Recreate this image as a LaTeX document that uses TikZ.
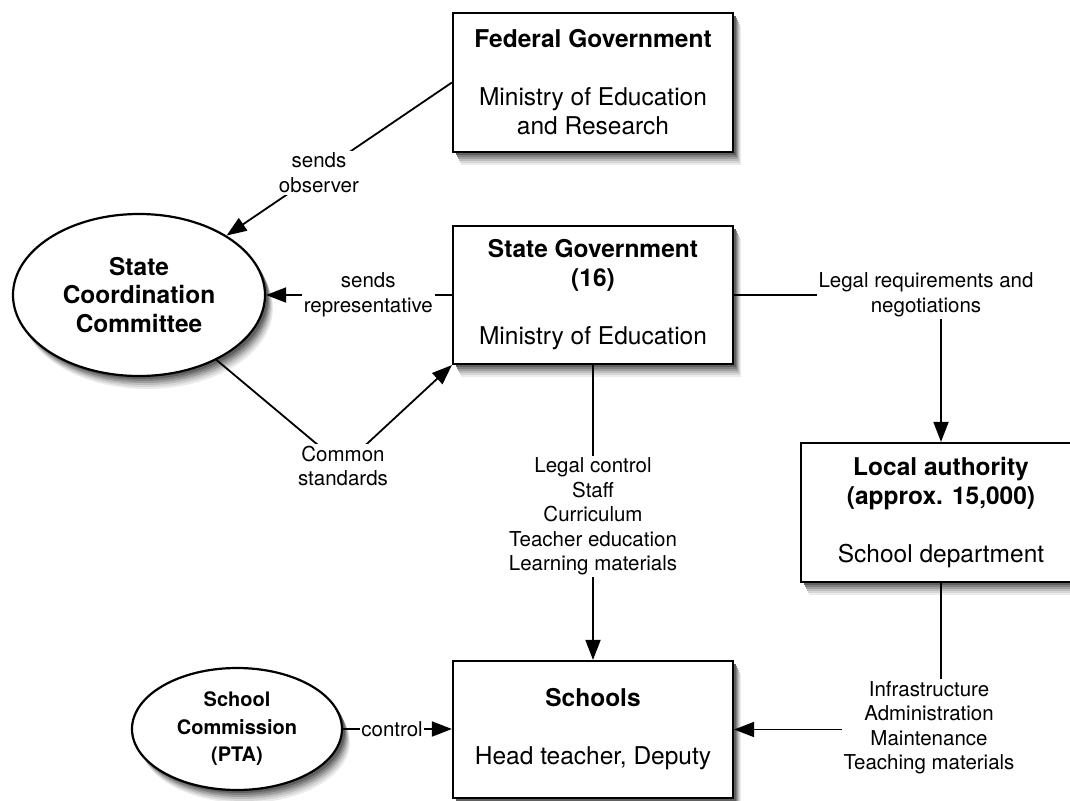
\documentclass[tikz,border=0pt]{standalone}
\usepackage{fontspec}
\setmainfont{TeX Gyre Heros}
\usetikzlibrary{arrows.meta,shapes.geometric}
% soft drop shadow behind a box: stacked grey copies, lightest and widest first
\newcommand\softboxshadow[4]{%
  \foreach \dx/\dy/\c in {8/13/8,7/11/16,6/9/26,5/7/38,4/5/50,3/3/62}{%
    \fill[black!\c] (#1+\dx,#2+\dy) rectangle (#3+\dx,#4+\dy);}}
\newcommand\softellshadow[4]{%
  \foreach \dx/\dy/\c in {8/13/8,7/11/16,6/9/26,5/7/38,4/5/50,3/3/62}{%
    \fill[black!\c] (#1+\dx,#2+\dy) ellipse [x radius=#3pt,y radius=#4pt];}}
\begin{document}
\begin{tikzpicture}[x=1pt,y=-1pt,
  org/.style={draw,line width=2.2pt,fill=white,rectangle,minimum width=280pt,inner sep=0pt,
    align=center,font=\fontsize{24.5}{29}\selectfont},
  ell/.style={draw,line width=2.2pt,fill=white,ellipse,inner sep=0pt,align=center},
  conn/.style={line width=1.8pt,-{Triangle[length=20pt,width=15pt]}},
  lbl/.style={fill=white,align=center,inner sep=2pt,font=\fontsize{20.5}{24.5}\selectfont},
]
\useasboundingbox (0,0) rectangle (1070,800);

% shadows under the boxes and ellipses
\softboxshadow{453}{13}{733}{152}
\softboxshadow{453}{226}{733}{364}
\softboxshadow{801}{443}{1081}{582}
\softboxshadow{453}{661}{733}{798}
\softellshadow{139}{295}{126}{81}
\softellshadow{237}{729}{105}{61}

% organisations
\node[org,minimum height=139pt] (fed) at (593,82.5)
  {\textbf{Federal Government}\\[29pt]Ministry of Education\\and Research};
\node[org,minimum height=138pt] (state) at (593,295)
  {\textbf{State Government}\\\textbf{(16)}\\[29pt]Ministry of Education};
\node[org,minimum height=139pt] (local) at (941,512.5)
  {\textbf{Local authority}\\\textbf{(approx. 15,000)}\\[29pt]School department};
\node[org,minimum height=137pt] (schools) at (593,729.5)
  {\textbf{Schools}\\[29pt]Head teacher, Deputy};

% committees
\node[ell,minimum width=252pt,minimum height=162pt,font=\bfseries\fontsize{24.5}{28.5}\selectfont]
  (scc) at (139,295) {State\\Coordination\\Committee};
\node[ell,minimum width=210pt,minimum height=122pt,font=\bfseries\fontsize{20}{27.5}\selectfont]
  (spc) at (237,729) {School\\Commission\\(PTA)};

% relations
\draw[conn] (fed.west) -- node[lbl,pos=0.59] (obs) {sends\\observer} (scc);
\draw[conn] (state.west) -- node[lbl,pos=0.45] (rep) {sends\\representative} (scc.east);
\draw[conn] (scc) -- (343,466) node[lbl] (std) {Common\\standards} -- (state.south west);
\draw[conn] (state.east) -| node[lbl,pos=0.5,xshift=-15pt] (req)
  {Legal requirements and\\negotiations} (local.north);
\draw[conn] (state.south) -- node[lbl,pos=0.513] (ctl)
  {Legal control\\Staff\\Curriculum\\Teacher education\\Learning materials} (schools.north);
\draw[conn] (local.south) |- node[lbl,pos=0.5,xshift=-12pt,yshift=2pt] (inf)
  {Infrastructure\\Administration\\Maintenance\\Teaching materials} (schools.east);
\draw[conn] (spc.east) -- node[lbl,pos=0.45,inner sep=1.5pt] (ctrl) {control} (spc.east -| schools.west);
\end{tikzpicture}
\end{document}
